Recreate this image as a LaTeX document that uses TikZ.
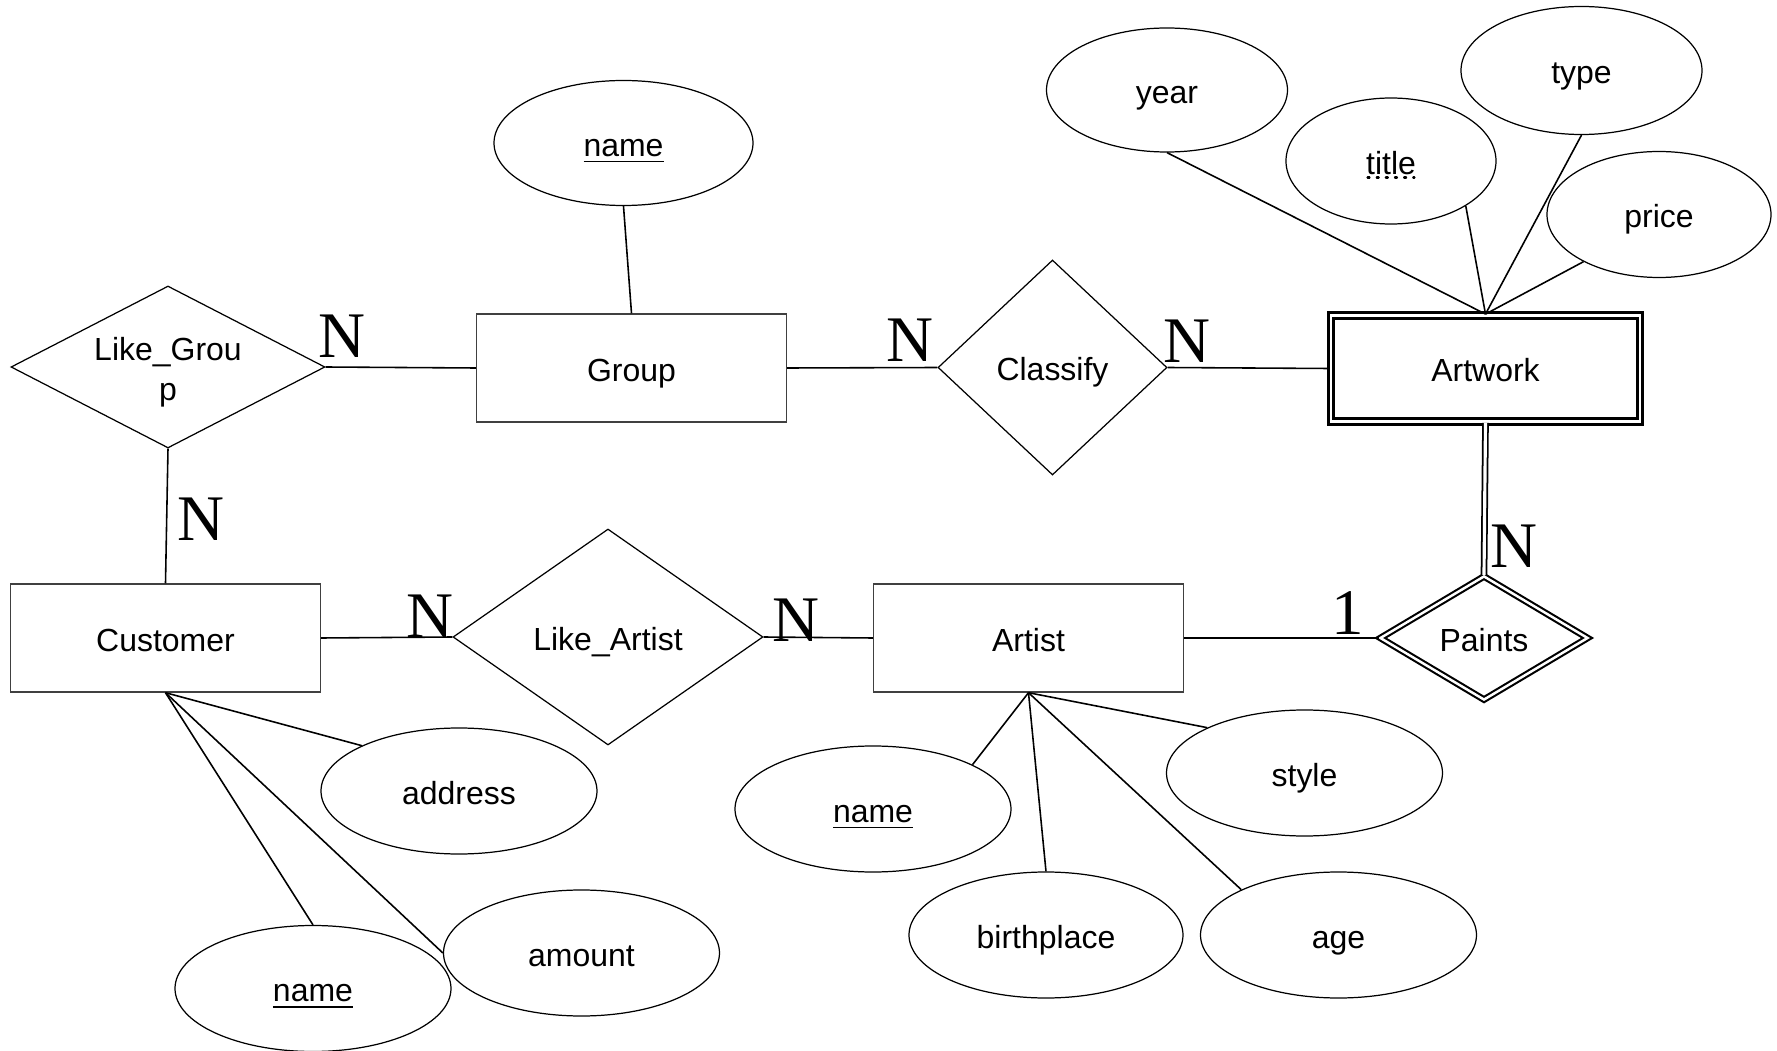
\documentclass[tikz,border=0pt]{standalone}
\usepackage{fontspec}
\setmainfont{Liberation Sans}
\newfontfamily\cardfont{Liberation Serif}
\usetikzlibrary{shapes.geometric,calc}

\begin{document}
\begin{tikzpicture}[
  every node/.style={font=\fontsize{9.1}{10.2}\selectfont},
  txt/.style={text height=0.95em, text depth=0.2em},
  entity/.style={txt, draw=black!75, line width=0.4pt, rectangle, inner sep=0,
    minimum width=3.1cm, minimum height=1.08cm},
  weakentity/.style={txt, draw, double, double distance=0.8pt, line width=0.8pt,
    rectangle, inner sep=0, minimum width=3.09cm, minimum height=1.06cm},
  relation/.style={draw, line width=0.35pt, diamond, inner sep=0},
  weakrelation/.style={draw, double, double distance=0.7pt, line width=0.6pt,
    diamond, inner sep=0},
  rlabel/.style={label={[txt]center:#1}},
  attr/.style={txt, draw, line width=0.35pt, ellipse, inner sep=0,
    minimum width=2.76cm, minimum height=1.26cm},
  card/.style={font=\cardfont\fontsize{18.5}{18.5}\selectfont, inner sep=0, anchor=south},
  link/.style={line width=0.45pt},
  total/.style={double, double distance=0.9pt, line width=0.5pt},
]
\useasboundingbox (0,0) rectangle (17.77,-10.51);

% entity sets
\node[entity] (grp) at (6.315,-3.68) {Group};
\node[entity] (cust) at (1.655,-6.38) {Customer};
\node[entity] (artist) at (10.285,-6.38) {Artist};
\node[weakentity] (artwork) at (14.855,-3.685) {Artwork};

% relationship sets
\node[relation, minimum width=3.14cm, minimum height=1.62cm,
  label={[align=center, font=\fontsize{9.1}{11.4}\selectfont, yshift=-0.05cm]center:Like\_Grou\\p}] (likeg) at (1.68,-3.67) {};
\node[relation, minimum width=2.29cm, minimum height=2.15cm,
  rlabel=Classify] (classify) at (10.525,-3.675) {};
\node[relation, minimum width=3.10cm, minimum height=2.16cm,
  rlabel=Like\_Artist] (likea) at (6.08,-6.37) {};
\node[weakrelation, minimum width=2.08cm, minimum height=1.24cm,
  rlabel=Paints] (paints) at (14.84,-6.38) {};

% attributes
\node[attr, minimum width=2.59cm, minimum height=1.25cm] (gname) at (6.235,-1.43) {\underline{name}};
\node[attr, minimum width=2.41cm, minimum height=1.24cm] (year) at (11.67,-0.90) {year};
\node[attr, minimum width=2.10cm, minimum height=1.26cm] (title) at (13.91,-1.61) {title};
\draw[line width=0.6pt, dotted, line cap=round] ($(title.center)+(-0.235,-0.165)$) -- ++(0.47,0);
\node[attr, minimum width=2.41cm, minimum height=1.28cm] (type) at (15.815,-0.705) {type};
\node[attr, minimum width=2.24cm, minimum height=1.26cm] (price) at (16.59,-2.145) {price};

\node[attr] (addr) at (4.59,-7.91) {address};
\node[attr] (amount) at (5.815,-9.53) {amount};
\node[attr] (cname) at (3.13,-9.885) {\underline{name}};

\node[attr] (aname) at (8.73,-8.09) {\underline{name}};
\node[attr, minimum width=2.74cm] (birth) at (10.46,-9.35) {birthplace};
\node[attr] (age) at (13.385,-9.35) {age};
\node[attr] (style) at (13.045,-7.73) {style};

% relationship links
\draw[link] (likeg.east) -- (grp.west);
\draw[link] (grp.east) -- (classify.west);
\draw[link] (classify.east) -- (artwork.west);
\draw[link] (likeg.south) -- (cust.north);
\draw[link] (cust.east) -- (likea.west);
\draw[link] (likea.east) -- (artist.west);
\draw[link] (artist.east) -- (paints.west);
\draw[total] (artwork.south) -- (paints.north);

% attribute links
\draw[link] (gname.south) -- (grp.north);
\draw[link] (artwork.north) -- (year.270);
\draw[link] (artwork.north) -- (title.329);
\draw[link] (artwork.north) -- (type.270);
\draw[link] (artwork.north) -- (price.212);
\draw[link] (cust.south) -- (addr.155);
\draw[link] (cust.south) -- (amount.180);
\draw[link] (cust.south) -- (cname.90);
\draw[link] (artist.south) -- (aname.24);
\draw[link] (artist.south) -- (birth.90);
\draw[link] (artist.south) -- (age.155);
\draw[link] (artist.south) -- (style.155);

% cardinalities
\node[card] (nlg) at (3.42,-3.58) {N};
\node[card] (nlc) at (2.01,-5.41) {N};
\node[card] (ncl) at (9.10,-3.62) {N};
\node[card] (ncr) at (11.87,-3.63) {N};
\node[card] (npa) at (15.14,-5.68) {N};
\node[card] (one) at (13.48,-6.35) {1};
\node[card] (nla) at (4.30,-6.38) {N};
\node[card] (nlr) at (7.96,-6.42) {N};
\end{tikzpicture}
\end{document}
